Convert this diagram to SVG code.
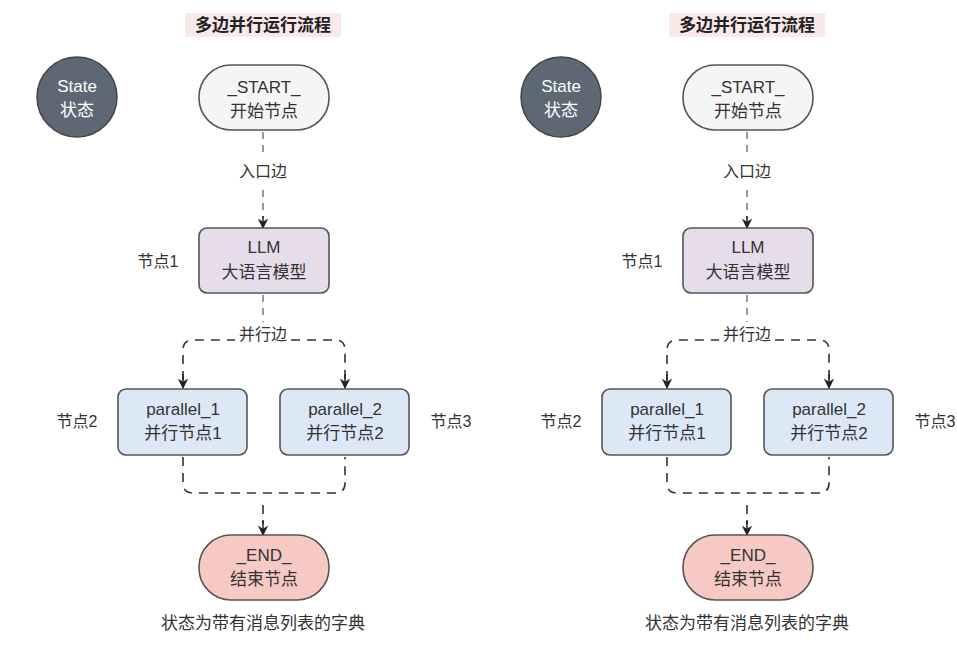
<svg xmlns="http://www.w3.org/2000/svg" width="957" height="672" viewBox="0 0 957 672">
<defs>
<marker id="ar" viewBox="0 0 10 10" refX="9" refY="5" markerWidth="7" markerHeight="7" orient="auto"><path d="M0,0 L10,5 L0,10 L3,5 z" fill="#222"/></marker>
<style>
text{font-family:"Liberation Sans","Noto Sans CJK SC",sans-serif;fill:#333;text-anchor:middle}
.t{font-size:17px;font-weight:bold;fill:#222}
.n{font-size:17px}
.l{font-size:16px}
.c{font-size:17px}
.e{fill:none;stroke:#333;stroke-width:1.6;stroke-dasharray:9 7}
.g{fill:none;stroke:#999;stroke-width:2;stroke-dasharray:7 6}
.b{stroke:#555;stroke-width:1.6}
</style>
</defs>
<rect width="957" height="672" fill="#fff"/>
<g id="panelL">
<rect x="185" y="13" width="156" height="24" fill="#fbe9ea"/>
<text class="t" x="263" y="31">多边并行运行流程</text>
<g id="stateL"><circle cx="77" cy="97" r="40" fill="#5d6874" stroke="#444" stroke-width="1.5"/><text class="n" x="77" y="92" style="fill:#fff">State</text><text class="n" x="77" y="116" style="fill:#fff">状态</text></g>
<g id="edgesL">
<line class="g" x1="263" y1="132" x2="263" y2="156"/>
<text class="l" x="263" y="177">入口边</text>
<line class="g" x1="263" y1="190" x2="263" y2="218"/>
<line x1="263" y1="216" x2="263" y2="228" stroke="#222" stroke-width="1.5" marker-end="url(#ar)"/>
<line class="g" x1="263" y1="295" x2="263" y2="322"/>
<text class="l" x="263" y="340">并行边</text>
<path class="e" d="M183,380 V350 Q183,340 193,340 H235 M291,340 H335 Q345,340 345,350 V380"/>
<line x1="183" y1="374" x2="183" y2="388" stroke="#222" stroke-width="1.5" marker-end="url(#ar)"/>
<line x1="345" y1="374" x2="345" y2="388" stroke="#222" stroke-width="1.5" marker-end="url(#ar)"/>
<path class="e" d="M183,457 V483 Q183,493 193,493 H335 Q345,493 345,483 V457"/>
<line class="e" x1="263" y1="505" x2="263" y2="524"/>
<line x1="263" y1="520" x2="263" y2="535" stroke="#222" stroke-width="1.5" marker-end="url(#ar)"/>
</g>
<g id="startL"><rect class="b" x="199" y="65" width="130" height="65" rx="32" fill="#f5f5f5"/><text class="n" x="264" y="93">_START_</text><text class="n" x="264" y="117">开始节点</text></g>
<g id="llmL"><rect class="b" x="199" y="228" width="130" height="65" rx="8" fill="#e6dcea"/><text class="n" x="264" y="253">LLM</text><text class="n" x="264" y="278">大语言模型</text><text class="l" x="158" y="267">节点1</text></g>
<g id="p1L"><rect class="b" x="118" y="389" width="129" height="66" rx="8" fill="#dde8f7"/><text class="n" x="183" y="415">parallel_1</text><text class="n" x="183" y="439">并行节点1</text><text class="l" x="77" y="427">节点2</text></g>
<g id="p2L"><rect class="b" x="280" y="389" width="129" height="66" rx="8" fill="#dde8f7"/><text class="n" x="345" y="415">parallel_2</text><text class="n" x="345" y="439">并行节点2</text><text class="l" x="451" y="427">节点3</text></g>
<g id="endL"><rect class="b" x="199" y="535" width="130" height="65" rx="32" fill="#f6c9c5"/><text class="n" x="264" y="561">_END_</text><text class="n" x="264" y="585">结束节点</text></g>
<text class="c" x="263" y="629">状态为带有消息列表的字典</text>
</g>
<g id="panelR" transform="translate(484,0)">
<rect x="185" y="13" width="156" height="24" fill="#fbe9ea"/>
<text class="t" x="263" y="31">多边并行运行流程</text>
<g id="stateR"><circle cx="77" cy="97" r="40" fill="#5d6874" stroke="#444" stroke-width="1.5"/><text class="n" x="77" y="92" style="fill:#fff">State</text><text class="n" x="77" y="116" style="fill:#fff">状态</text></g>
<g id="edgesR">
<line class="g" x1="263" y1="132" x2="263" y2="156"/>
<text class="l" x="263" y="177">入口边</text>
<line class="g" x1="263" y1="190" x2="263" y2="218"/>
<line x1="263" y1="216" x2="263" y2="228" stroke="#222" stroke-width="1.5" marker-end="url(#ar)"/>
<line class="g" x1="263" y1="295" x2="263" y2="322"/>
<text class="l" x="263" y="340">并行边</text>
<path class="e" d="M183,380 V350 Q183,340 193,340 H235 M291,340 H335 Q345,340 345,350 V380"/>
<line x1="183" y1="374" x2="183" y2="388" stroke="#222" stroke-width="1.5" marker-end="url(#ar)"/>
<line x1="345" y1="374" x2="345" y2="388" stroke="#222" stroke-width="1.5" marker-end="url(#ar)"/>
<path class="e" d="M183,457 V483 Q183,493 193,493 H335 Q345,493 345,483 V457"/>
<line class="e" x1="263" y1="505" x2="263" y2="524"/>
<line x1="263" y1="520" x2="263" y2="535" stroke="#222" stroke-width="1.5" marker-end="url(#ar)"/>
</g>
<g id="startR"><rect class="b" x="199" y="65" width="130" height="65" rx="32" fill="#f5f5f5"/><text class="n" x="264" y="93">_START_</text><text class="n" x="264" y="117">开始节点</text></g>
<g id="llmR"><rect class="b" x="199" y="228" width="130" height="65" rx="8" fill="#e6dcea"/><text class="n" x="264" y="253">LLM</text><text class="n" x="264" y="278">大语言模型</text><text class="l" x="158" y="267">节点1</text></g>
<g id="p1R"><rect class="b" x="118" y="389" width="129" height="66" rx="8" fill="#dde8f7"/><text class="n" x="183" y="415">parallel_1</text><text class="n" x="183" y="439">并行节点1</text><text class="l" x="77" y="427">节点2</text></g>
<g id="p2R"><rect class="b" x="280" y="389" width="129" height="66" rx="8" fill="#dde8f7"/><text class="n" x="345" y="415">parallel_2</text><text class="n" x="345" y="439">并行节点2</text><text class="l" x="451" y="427">节点3</text></g>
<g id="endR"><rect class="b" x="199" y="535" width="130" height="65" rx="32" fill="#f6c9c5"/><text class="n" x="264" y="561">_END_</text><text class="n" x="264" y="585">结束节点</text></g>
<text class="c" x="263" y="629">状态为带有消息列表的字典</text>
</g>
</svg>
